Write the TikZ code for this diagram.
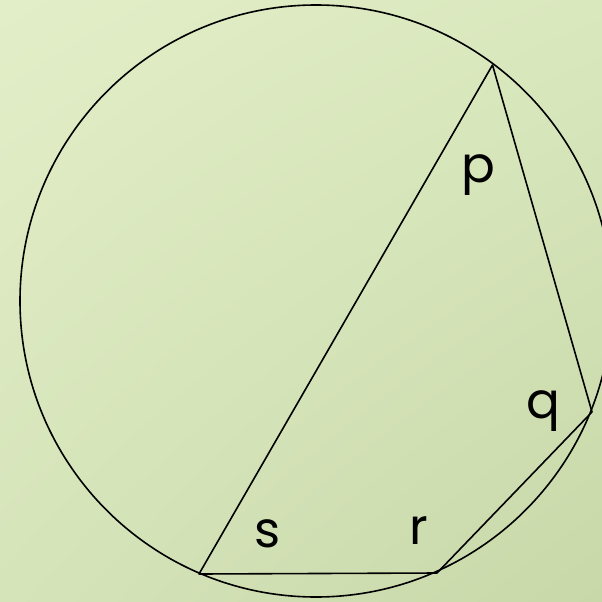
\documentclass[tikz,border=0pt]{standalone}
\usepackage{fontspec}
\setmainfont{Poppins}
\usetikzlibrary{shadings}
\definecolor{bgA}{RGB}{226,238,199}
\definecolor{bgB}{RGB}{218,232,190}
\definecolor{bgC}{RGB}{214,228,186}
\definecolor{bgD}{RGB}{200,216,168}
\tikzset{
  edge/.style={line width=1.6pt, black, line join=round},
  lbl/.style={font=\fontsize{50}{50}\selectfont, anchor=base, inner sep=0pt}
}
\begin{document}
\begin{tikzpicture}[x=1pt,y=-1pt]
\useasboundingbox (0,0) rectangle (602,602);
\shade[upper left=bgA, upper right=bgB, lower left=bgC, lower right=bgD]
  (0,0) rectangle (602,602);
\coordinate (O) at (316,301);
\draw[edge] (O) circle [radius=296pt];
\coordinate (P) at (492.5,65);
\coordinate (Q) at (592,412);
\coordinate (R) at (437,573);
\coordinate (S) at (199,574);
\draw[edge] (P) -- (Q) -- (R) -- (S) -- cycle;
\node[lbl] (lp) at (478,182) {p};
\node[lbl] (lq) at (543,418) {q};
\node[lbl] (lr) at (419,544) {r};
\node[lbl] (ls) at (268,547) {s};
\end{tikzpicture}
\end{document}
